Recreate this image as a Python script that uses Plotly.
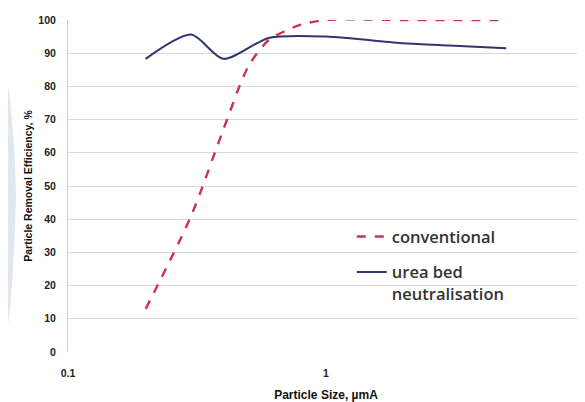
import plotly.graph_objects as go

# Data
conv_x = [0.2, 0.3, 0.4, 0.5, 0.6, 0.7, 0.8, 1.0, 2.0, 5.0]
conv_y = [13, 41, 67, 86, 94, 96.8, 98.6, 100, 100, 100]

urea_x = [0.2, 0.3, 0.4, 0.6, 1.0, 2.0, 3.0, 5.0]
urea_y = [88.3, 95.6, 88.3, 94.6, 95.0, 93.0, 92.3, 91.5]

y_ticks = list(range(0, 101, 10))
x_ticks = [0.1, 1, 10]
x_tick_labels = ["0.1", "1", "10"]

# the page body has an 8px margin, so the figure is drawn 8px in from the corner
W, H = 577, 394
ML, MR, MT, MB = 60, 1, 12, 50
PW, PH = W - ML - MR, H - MT - MB


def px2paper(px, py):
    return (px - ML) / PW, (H - MB - py) / PH


# faint decorative crescent at the left edge (as in the scanned source)
crescent_px = [(0, 77), (5, 112), (8, 162), (7, 222), (5, 282), (0, 317)]
pts = [px2paper(a, b) for a, b in crescent_px]
path = "M {:.4f},{:.4f} ".format(*pts[0])
path += "C {:.4f},{:.4f} {:.4f},{:.4f} {:.4f},{:.4f} ".format(*pts[1], *pts[2], *px2paper(8, 192))
path += "C {:.4f},{:.4f} {:.4f},{:.4f} {:.4f},{:.4f} Z".format(*pts[3], *pts[4], *pts[5])

fig = go.Figure()
fig.add_trace(go.Scatter(
    x=conv_x, y=conv_y, mode="lines", name="conventional", legendgroup="conv",
    line=dict(color="#c8344c", width=2.4, dash="dash", shape="spline", smoothing=0.8),
))
fig.add_trace(go.Scatter(
    x=urea_x, y=urea_y, mode="lines", name="urea bed<br>neutralisation", legendgroup="urea",
    line=dict(color="#2f3570", width=2, shape="spline", smoothing=0.75),
))

tick_font = dict(family="Liberation Sans, Arial", size=10.5, color="#222222", weight="bold")

fig.update_layout(
    width=W, height=H,
    margin=dict(l=ML, r=MR, t=MT, b=MB),
    paper_bgcolor="white", plot_bgcolor="white",
    showlegend=True,
    legend=dict(
        x=0.55, y=0.40, xanchor="left", yanchor="top", valign="top",
        bgcolor="rgba(0,0,0,0)",
        font=dict(family="Open Sans", size=16.5, color="#333333", weight=600),
        tracegroupgap=11, itemwidth=30,
    ),
    xaxis=dict(
        type="log", range=[-1, 1.00001], automargin=False,
        tickvals=x_ticks, ticktext=x_tick_labels, ticklabeloverflow="allow",
        showgrid=False, zeroline=False,
        showline=False, ticks="",
        tickfont=tick_font, ticklabelstandoff=13,
        title=dict(text="Particle Size, µmA", font=dict(family="Liberation Sans, Arial", size=12, color="#111111", weight="bold"), standoff=16),
    ),
    yaxis=dict(
        range=[0, 100], tickvals=y_ticks, automargin=False,
        showgrid=True, gridcolor="#d9d9d9", gridwidth=1,
        zeroline=False, showline=True, linecolor="#d0d0d0", ticks="",
        tickfont=tick_font, ticklabelstandoff=9,
        title=dict(text="Particle Removal Efficiency, %", font=dict(family="Liberation Sans, Arial", size=10.5, color="#111111", weight="bold"), standoff=3),
    ),
    shapes=[dict(type="path", xref="paper", yref="paper", path=path,
                 fillcolor="#e2e7ee", line=dict(width=0), layer="below")],
)

fig.write_html("out.html")
